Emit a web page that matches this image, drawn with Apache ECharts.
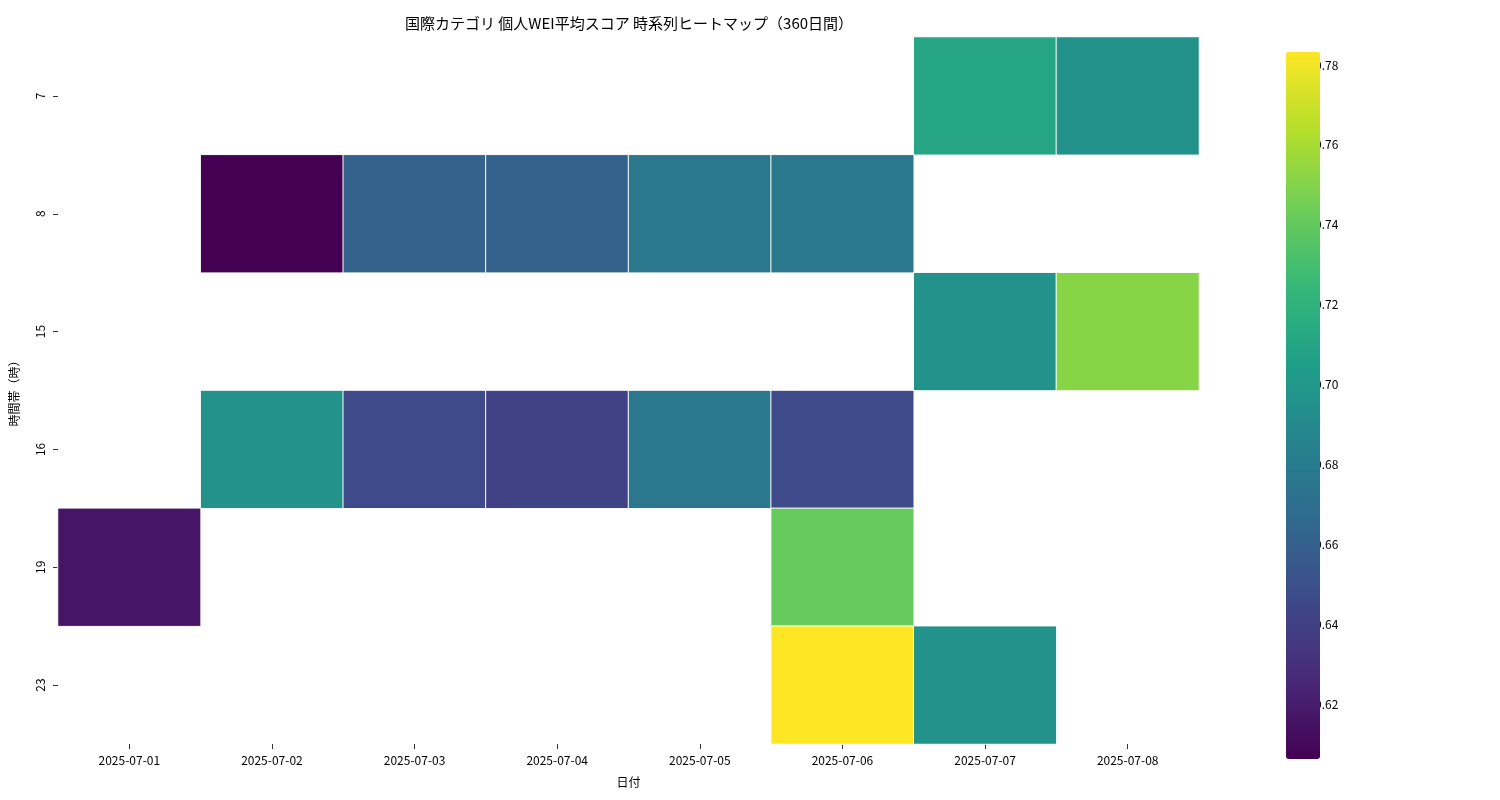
<!DOCTYPE html>
<html><head><meta charset="utf-8">
<script src="https://cdn.jsdelivr.net/npm/echarts@6/dist/echarts.min.js"></script>
<style>html,body{margin:0;background:#fff}#c{width:1500px;height:800px}</style>
</head><body><div id="c"></div>
<script>
const dates=['2025-07-01','2025-07-02','2025-07-03','2025-07-04','2025-07-05','2025-07-06','2025-07-07','2025-07-08'];
const hours=['7','8','15','16','19','23'];
const h7=[null,null,null,null,null,null,0.715,0.700];
const h8=[null,0.610,0.665,0.665,0.680,0.680,null,null];
const h15=[null,null,null,null,null,null,0.700,0.755];
const h16=[null,0.700,0.650,0.645,0.680,0.650,null,null];
const h19=[0.620,null,null,null,null,0.745,null,null];
const h23=[null,null,null,null,null,0.787,0.700,null];
const rows=[h7,h8,h15,h16,h19,h23];
const data=[];
rows.forEach((r,yi)=>r.forEach((v,xi)=>{if(v!=null)data.push([xi,yi,v]);}));
const viridis=['#440154','#482878','#3e4989','#31688e','#26828e','#1f9e89','#35b779','#6ece58','#b5de2b','#fde725'];
const F='"Noto Sans CJK JP", sans-serif';
const ch=echarts.init(document.getElementById('c'));
ch.setOption({
 title:{text:'国際カテゴリ 個人WEI平均スコア 時系列ヒートマップ（360日間）',left:624,top:11,textAlign:'center',textStyle:{fontFamily:F,fontSize:15,fontWeight:'normal',color:'#000'}},
 grid:{left:57,right:301,top:37,bottom:56},
 xAxis:{type:'category',data:dates,name:'日付',nameLocation:'middle',nameGap:32,nameTextStyle:{fontFamily:F,fontSize:12,color:'#000'},
  axisLine:{show:false},axisTick:{show:true,alignWithLabel:true,length:5,lineStyle:{color:'#333'}},axisLabel:{fontFamily:F,fontSize:12,color:'#000',margin:10},splitArea:{show:false}},
 yAxis:{type:'category',data:hours,inverse:true,name:'時間帯（時）',nameLocation:'middle',nameGap:38,nameRotate:90,nameTextStyle:{fontFamily:F,fontSize:12,color:'#000'},
  axisLine:{show:false},axisTick:{show:true,alignWithLabel:true,length:5,lineStyle:{color:'#333'}},axisLabel:{fontFamily:F,fontSize:12,color:'#000',rotate:90,margin:12}},
 visualMap:{type:'continuous',min:0.61,max:0.787,calculable:false,orient:'vertical',left:1271,top:37,itemWidth:34,itemHeight:707,
  text:null,showLabel:false,inRange:{color:viridis},show:true,textStyle:{color:'transparent'}},
 series:[{type:'heatmap',data:data,itemStyle:{borderColor:'#fff',borderWidth:1}},
  {type:'scatter',data:[],xAxisIndex:0,yAxisIndex:0}]
});
// colorbar ticks via graphic using visualMap geometry
const ticks=[0.62,0.64,0.66,0.68,0.70,0.72,0.74,0.76,0.78];
const g=[];
ticks.forEach(t=>{const y=37+707*(0.787-t)/(0.787-0.61);
 g.push({type:'line',shape:{x1:1305,y1:y,x2:1310,y2:y},style:{stroke:'#333',lineWidth:1}});
 g.push({type:'text',x:1315,y:y,style:{text:t.toFixed(2),fontFamily:F,fontSize:12,fill:'#000',verticalAlign:'middle'}});});
ch.setOption({graphic:g});
</script></body></html>
